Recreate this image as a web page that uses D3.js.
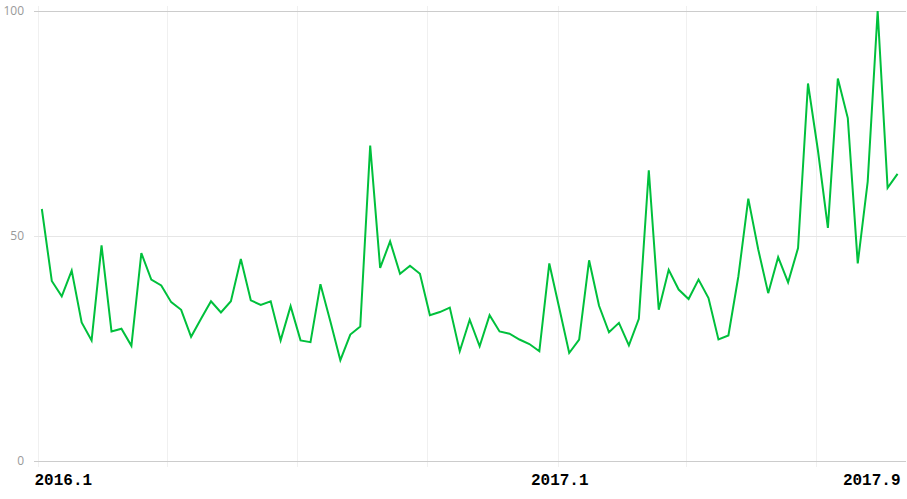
<!DOCTYPE html>
<html>
<head>
<meta charset="utf-8">
<script src="https://cdn.jsdelivr.net/npm/d3@7"></script>
<style>
  html, body { margin: 0; padding: 0; background: #fff; }
  svg { display: block; }
</style>
</head>
<body>
<svg id="chart" width="907" height="499"></svg>
<script>
// Weekly dates (categories)
const dates = [
  "2016-01-03","2016-01-10","2016-01-17","2016-01-24","2016-01-31","2016-02-07","2016-02-14","2016-02-21","2016-02-28",
  "2016-03-06","2016-03-13","2016-03-20","2016-03-27","2016-04-03","2016-04-10","2016-04-17","2016-04-24",
  "2016-05-01","2016-05-08","2016-05-15","2016-05-22","2016-05-29","2016-06-05","2016-06-12","2016-06-19","2016-06-26",
  "2016-07-03","2016-07-10","2016-07-17","2016-07-24","2016-07-31","2016-08-07","2016-08-14","2016-08-21","2016-08-28",
  "2016-09-04","2016-09-11","2016-09-18","2016-09-25","2016-10-02","2016-10-09","2016-10-16","2016-10-23","2016-10-30",
  "2016-11-06","2016-11-13","2016-11-20","2016-11-27","2016-12-04","2016-12-11","2016-12-18","2016-12-25",
  "2017-01-01","2017-01-08","2017-01-15","2017-01-22","2017-01-29","2017-02-05","2017-02-12","2017-02-19","2017-02-26",
  "2017-03-05","2017-03-12","2017-03-19","2017-03-26","2017-04-02","2017-04-09","2017-04-16","2017-04-23","2017-04-30",
  "2017-05-07","2017-05-14","2017-05-21","2017-05-28","2017-06-04","2017-06-11","2017-06-18","2017-06-25",
  "2017-07-02","2017-07-09","2017-07-16","2017-07-23","2017-07-30","2017-08-06","2017-08-13","2017-08-20","2017-08-27"
];

// Series values (0-100 index)
const values = [
  56, 40, 36.6, 42.3, 30.8, 26.8, 47.9, 28.8, 29.4, 25.6,
  46.2, 40.3, 39, 35.3, 33.6, 27.6, 31.6, 35.5, 33, 35.5,
  44.9, 35.7, 34.7, 35.5, 26.8, 34.4, 26.8, 26.4, 39.3, 31,
  22.4, 28.1, 29.9, 70.1, 42.9, 48.8, 41.6, 43.4, 41.6, 32.4,
  33.1, 34.1, 24.4, 31.4, 25.5, 32.4, 28.8, 28.3, 27, 26,
  24.4, 43.9, 34, 24, 27, 44.6, 34.5, 28.6, 30.7, 25.7,
  31.6, 64.6, 33.6, 42.5, 38.1, 36, 40.3, 36.2, 27, 27.9,
  41, 58.3, 47, 37.3, 45.3, 39.7, 47.3, 83.9, 69, 51.8,
  85, 76.2, 43.9, 62.1, 100, 60.7, 63.8
];

// Axis ticks
const yTicks = [0, 50, 100];
const gridDates = ["2016-01-01","2016-04-01","2016-07-01","2016-10-01","2017-01-01","2017-04-01","2017-07-01"];
const xTickDates = ["2016-01-01","2017-01-01","2017-09-01"];
const xTickLabels = ["2016.1","2017.1","2017.9"];

const parse = d3.timeParse("%Y-%m-%d");
const data = dates.map((d, i) => ({ date: parse(d), value: values[i] }));

const svg = d3.select("#chart");
const plotLeft = 34, plotRight = 906;

const x = d3.scaleTime()
  .domain([parse("2016-01-01"), parse("2017-09-03")])
  .range([39, 907.5]);
const y = d3.scaleLinear()
  .domain([0, 100])
  .range([461, 11]);

// vertical gridlines
svg.append("g")
  .selectAll("line")
  .data(gridDates.map(parse))
  .join("line")
  .attr("x1", d => Math.round(x(d)) - 0.5)
  .attr("x2", d => Math.round(x(d)) - 0.5)
  .attr("y1", 6)
  .attr("y2", 467)
  .attr("stroke", "#f0f0f0")
  .attr("stroke-width", 1);

// horizontal gridlines
svg.append("g")
  .selectAll("line")
  .data(yTicks)
  .join("line")
  .attr("x1", plotLeft)
  .attr("x2", plotRight)
  .attr("y1", d => Math.round(y(d)) + 0.5)
  .attr("y2", d => Math.round(y(d)) + 0.5)
  .attr("stroke", d => (d === 50 ? "#e6e6e6" : "#cccccc"))
  .attr("stroke-width", 1);

// y labels
const yAxis = d3.axisLeft(y).tickValues(yTicks).tickSize(0).tickPadding(0);
const yg = svg.append("g").attr("transform", "translate(24,0)").call(yAxis);
yg.select(".domain").remove();
yg.selectAll("text")
  .attr("fill", "#999")
  .style("font-family", "'Open Sans', 'Noto Sans', sans-serif")
  .style("font-size", "12px")
  .attr("dy", "0.32em");

// x labels
const xAxis = d3.axisBottom(x)
  .tickValues(xTickDates.map(parse))
  .tickFormat((d, i) => xTickLabels[i])
  .tickSize(0)
  .tickPadding(0);
const xg = svg.append("g").attr("transform", "translate(0,485)").call(xAxis);
xg.select(".domain").remove();
xg.selectAll("text")
  .attr("fill", "#000")
  .attr("dy", 0)
  .style("font-family", "'Liberation Mono', 'DejaVu Sans Mono', monospace")
  .style("font-size", "16px")
  .style("font-weight", "bold");
xg.selectAll(".tick").each(function(d, i, nodes) {
  const t = d3.select(this).select("text");
  if (i === 0) t.attr("text-anchor", "start").attr("x", plotLeft - x(d));
  else if (i === nodes.length - 1) t.attr("text-anchor", "end").attr("x", 900 - x(d));
  else t.attr("text-anchor", "middle");
});

// line
const line = d3.line()
  .x(d => x(d.date))
  .y(d => y(d.value));

svg.append("path")
  .datum(data)
  .attr("fill", "none")
  .attr("stroke", "#00c03c")
  .attr("stroke-width", 2)
  .attr("stroke-linejoin", "miter")
  .attr("d", line);
</script>
</body>
</html>
